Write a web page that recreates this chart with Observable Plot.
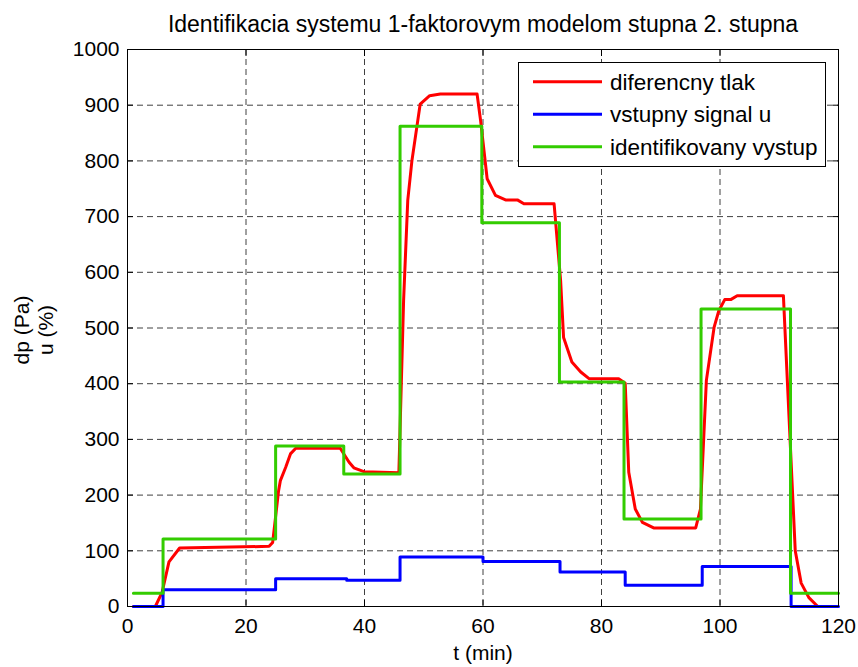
<!DOCTYPE html>
<html>
<head>
<meta charset="utf-8">
<script src="https://cdn.jsdelivr.net/npm/d3@7"></script>
<script src="https://cdn.jsdelivr.net/npm/@observablehq/plot@0.6"></script>
<style>
  html, body { margin: 0; padding: 0; background: #fff; }
  #wrap { position: relative; width: 858px; height: 667px; }
  #legend { position: absolute; left: 0; top: 0; }
</style>
</head>
<body>
<div id="wrap"></div>
<script>
// ---- data ----
const titleText = "Identifikacia systemu 1-faktorovym modelom stupna 2. stupna";
const xLabel = "t (min)";
const yLabel = "dp (Pa)\nu (%)";
const seriesNames = ["diferencny tlak", "vstupny signal u", "identifikovany vystup"];
const seriesColors = ["#ff0000", "#0000ff", "#33cc00"];
const xTicks = [0, 20, 40, 60, 80, 100, 120];
const yTicks = [0, 100, 200, 300, 400, 500, 600, 700, 800, 900, 1000];

// diferencny tlak (measured)
const redT = [1, 4.7, 5.85, 7.0, 8.8, 23.9, 24.5, 25.5, 25.8, 26.7, 27.5, 28.4, 35.9, 37.4, 38.2, 39.9, 45.8, 46.6, 47.3, 48.0, 49.4, 51.0, 52.8, 59.0, 59.6, 60.7, 62.1, 63.8, 65.8, 66.9, 72.0, 73.1, 73.6, 75.0, 76.5, 77.9, 82.9, 84.0, 84.6, 85.7, 86.9, 88.8, 95.9, 96.7, 97.7, 99.0, 99.8, 100.8, 101.8, 102.9, 110.7, 112.7, 113.7, 115.0, 116.5, 118.0];
const redV = [0, 0, 26, 80, 105, 108, 115, 208, 226, 250, 274, 284, 284, 259, 249, 242, 240, 550, 729, 800, 902, 917, 920, 920, 872, 768, 738, 730, 730, 723, 723, 585, 483, 439, 421, 409, 409, 401, 241, 175, 151, 141, 141, 175, 406, 501, 531, 551, 551, 558, 558, 100, 42, 16, 0, 0];

// vstupny signal u (step)
const blueT = [1, 6, 25, 37, 46, 60, 73, 84, 97, 112, 120];
const blueV = [0, 30, 50, 47, 89, 81, 62, 38, 72, 0, 0];

// identifikovany vystup (step)
const greenT = [1, 6, 25, 36.5, 46, 59.8, 72.9, 83.8, 96.8, 111.9, 120];
const greenV = [24, 121, 288, 238, 862, 689, 403, 157, 534, 24, 24];

const zip = (t, v) => t.map((d, i) => ({t: d, v: v[i]}));
const red = zip(redT, redV);
const blue = zip(blueT, blueV);
const green = zip(greenT, greenV);

const font = "'Liberation Sans', Arial, Helvetica, sans-serif";
const fs = 21;
const fmt = d => String(d);

const plot = Plot.plot({
  width: 858,
  height: 667,
  marginLeft: 127,
  marginRight: 20,
  marginTop: 49,
  marginBottom: 61,
  style: {fontFamily: font, fontSize: fs + "px", color: "#000", background: "#fff", overflow: "visible"},
  x: {domain: [0, 120], ticks: xTicks, label: null},
  y: {domain: [0, 1000], ticks: yTicks, label: null},
  marks: [
    Plot.gridX(xTicks, {stroke: "#000", strokeOpacity: 0.75, strokeDasharray: "6,4", strokeWidth: 1}),
    Plot.gridY(yTicks, {stroke: "#000", strokeOpacity: 0.75, strokeDasharray: "6,4", strokeWidth: 1}),
    Plot.line(red, {x: "t", y: "v", stroke: seriesColors[0], strokeWidth: 3, curve: "linear"}),
    Plot.line(blue, {x: "t", y: "v", stroke: seriesColors[1], strokeWidth: 3, curve: "step-after"}),
    Plot.line(green, {x: "t", y: "v", stroke: seriesColors[2], strokeWidth: 3, curve: "step-after"}),
    Plot.frame({stroke: "#000", strokeWidth: 1}),
    Plot.axisX(xTicks, {anchor: "bottom", tickSize: 0, tickPadding: 12, tickFormat: fmt, label: null, fill: "#000"}),
    Plot.axisX(xTicks, {anchor: "bottom", tickSize: -6, tickFormat: () => "", label: null, stroke: "#000"}),
    Plot.axisX(xTicks, {anchor: "top", tickSize: -6, tickFormat: () => "", label: null, stroke: "#000"}),
    Plot.axisY(yTicks, {anchor: "left", tickSize: 0, tickPadding: 8, tickFormat: fmt, label: null, fill: "#000"}),
    Plot.axisY(yTicks, {anchor: "left", tickSize: -6, tickFormat: () => "", label: null, stroke: "#000"}),
    Plot.axisY(yTicks, {anchor: "right", tickSize: -6, tickFormat: () => "", label: null, stroke: "#000"}),
    Plot.text([titleText], {frameAnchor: "top", textAnchor: "middle", lineAnchor: "bottom", dy: -17.5, fontSize: 23, fill: "#000"}),
    Plot.text([xLabel], {frameAnchor: "bottom", textAnchor: "middle", lineAnchor: "bottom", dy: 53.5, fill: "#000"}),
    Plot.text([yLabel], {frameAnchor: "left", textAnchor: "middle", lineAnchor: "middle", rotate: -90, dx: -94.5, dy: 2, lineHeight: 1.14, fill: "#000"})
  ]
});

const wrap = document.getElementById("wrap");
wrap.appendChild(plot);

// ---- legend (overlay) ----
const lg = d3.select(wrap).append("svg")
  .attr("id", "legend")
  .attr("width", 858).attr("height", 667)
  .style("font-family", font).style("font-size", "22.5px")
  .style("pointer-events", "none");
const box = {x: 518.5, y: 62.5, w: 307, h: 104};
lg.append("rect").attr("x", box.x).attr("y", box.y).attr("width", box.w).attr("height", box.h)
  .attr("fill", "#fff").attr("stroke", "#000").attr("stroke-width", 1);
const rowY = [81.7, 114.3, 146.7];
seriesNames.forEach((name, i) => {
  lg.append("line").attr("x1", 533).attr("x2", 602).attr("y1", rowY[i]).attr("y2", rowY[i])
    .attr("stroke", seriesColors[i]).attr("stroke-width", 3);
  lg.append("text").attr("x", 610).attr("y", rowY[i] + 8).attr("fill", "#000").text(name);
});
</script>
</body>
</html>
